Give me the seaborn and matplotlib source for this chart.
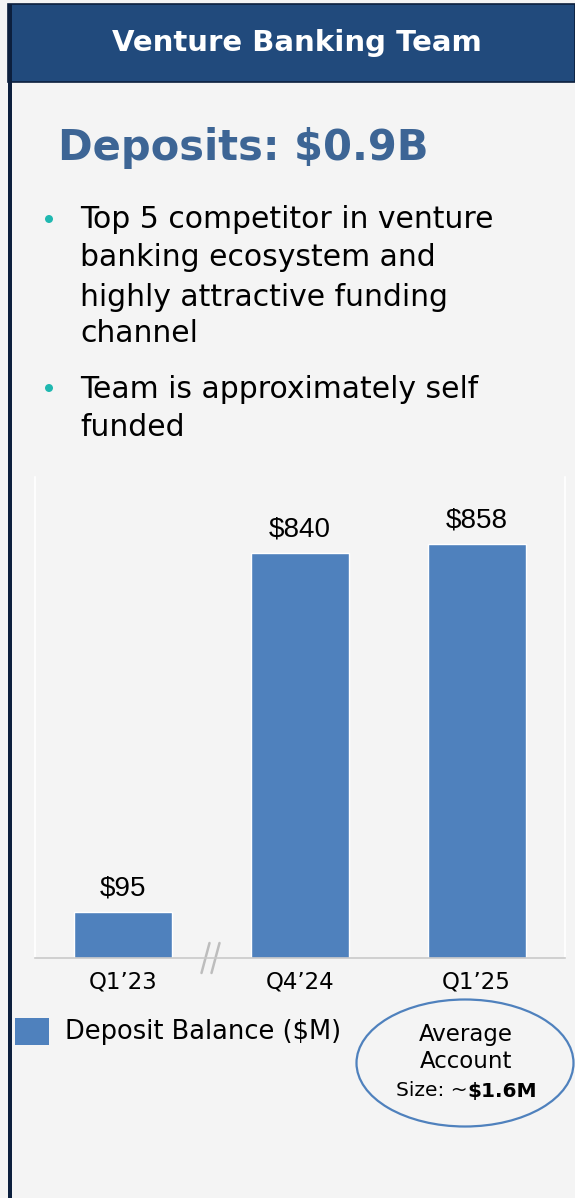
import matplotlib
matplotlib.use("Agg")
import matplotlib.pyplot as plt
import seaborn as sns
import pandas as pd
from matplotlib.patches import Rectangle, Ellipse

categories = ["Q1\u201923", "Q4\u201924", "Q1\u201925"]
values = [95, 840, 858]
value_labels = ["$95", "$840", "$858"]

header_title = "Venture Banking Team"
headline = "Deposits: $0.9B"
bullets = [
    ["Top 5 competitor in venture", "banking ecosystem and", "highly attractive funding", "channel"],
    ["Team is approximately self", "funded"],
]
legend_label = "Deposit Balance ($M)"

W, H = 575, 1198
BG = "#f4f4f4"
NAVY = "#214a7c"
BAR = "#4f81bd"
HEAD = "#3d6595"
TEAL = "#1fb8b0"
FONT = ["DejaVu Sans"]

sns.set_theme(style="white")
plt.rcParams["font.family"] = FONT
plt.rcParams["text.color"] = "black"

fig = plt.figure(figsize=(W / 100, H / 100), dpi=100)
fig.patch.set_facecolor(BG)

def fx(x):
    return x / W

def fy(y):
    return 1 - y / H

# header band and left border
fig.patches.append(Rectangle((fx(8), fy(82)), fx(575) - fx(8), fy(4) - fy(82),
                             transform=fig.transFigure, facecolor=NAVY, edgecolor="none"))
fig.patches.append(Rectangle((fx(8), fy(82)), fx(575) - fx(8), fy(4) - fy(82),
                             transform=fig.transFigure, facecolor="none", edgecolor="#0c1f3d", lw=1.2))
fig.patches.append(Rectangle((fx(8), 0), fx(4), fy(4),
                             transform=fig.transFigure, facecolor="#0c1f3d", edgecolor="none"))

fig.text(fx(297), fy(43), header_title, color="white", fontsize=21, fontweight="bold",
         ha="center", va="center")
fig.text(fx(58), fy(148), headline, color=HEAD, fontsize=30, fontweight="bold",
         ha="left", va="center")

line_y = [[220, 258, 297, 334], [389, 427]]
for blines, ys in zip(bullets, line_y):
    fig.patches.append(Ellipse((fx(49), fy(ys[0] - 1)), fx(8), fy(0) - fy(8),
                               transform=fig.transFigure, facecolor=TEAL, edgecolor="none"))
    for t, y in zip(blines, ys):
        fig.text(fx(80), fy(y), t, color="black", fontsize=21.5, ha="left", va="center")

# chart
ax = fig.add_axes([fx(35), fy(958), fx(565) - fx(35), fy(477) - fy(958)])
df = pd.DataFrame({"cat": categories, "val": values})
sns.barplot(data=df, x="cat", y="val", color=BAR, saturation=1, width=0.555, ax=ax)
ax.set_facecolor(BG)
ax.set_xlim(-0.5, 2.5)
ax.set_ylim(0, 998)
ax.set_xlabel("")
ax.set_ylabel("")
ax.set_yticks([])
ax.tick_params(axis="x", length=0, pad=9, labelsize=16.5, colors="black")
for s in ["left", "right"]:
    ax.spines[s].set_color("white")
    ax.spines[s].set_linewidth(1.2)
ax.spines["top"].set_visible(False)
ax.spines["bottom"].set_color("#c9c9c9")
ax.spines["bottom"].set_linewidth(1.2)

for i, (v, lab) in enumerate(zip(values, value_labels)):
    ax.annotate(lab, (i, v), xytext=(0, 8), textcoords="offset points", ha="center",
                va="bottom", fontsize=20, family=["Liberation Sans", "DejaVu Sans"], color="black")

# axis break marks
for cx in (205.5, 215.5):
    ax.plot([fx(cx - 4), fx(cx + 4)], [fy(973), fy(943)], color="#bdbdbd", lw=1.8,
            transform=fig.transFigure, clip_on=False)

# legend
fig.patches.append(Rectangle((fx(15), fy(1045)), fx(34), fy(1018) - fy(1045),
                             transform=fig.transFigure, facecolor=BAR, edgecolor="none"))
fig.text(fx(65), fy(1032), legend_label, fontsize=18.5, ha="left", va="center", color="black")

fig.patches.append(Ellipse((fx(465), fy(1063)), fx(217), fy(999) - fy(1126),
                           transform=fig.transFigure, facecolor="none", edgecolor=BAR, lw=1.6))
fig.text(fx(466), fy(1034), "Average", fontsize=16.5, ha="center", va="center", color="black")
fig.text(fx(466), fy(1062), "Account", fontsize=16.5, ha="center", va="center", color="black")
t1 = fig.text(fx(396), fy(1091), "Size: ~", fontsize=14.5, ha="left", va="center", color="black")
ax.annotate("$1.6M", xy=(1, 0.5), xycoords=t1, ha="left", va="center", fontsize=14.5,
            fontweight="bold", color="black", annotation_clip=False)

fig.savefig("out.png", dpi=100, facecolor=BG)
